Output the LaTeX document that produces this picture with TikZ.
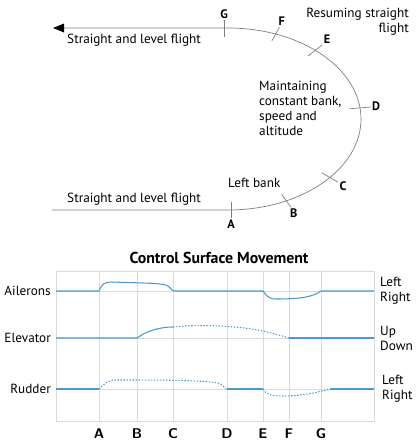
\documentclass[tikz,border=0pt]{standalone}
\usepackage{fontspec}
\setmainfont{PT Sans}
\usetikzlibrary{calc,arrows.meta}
\definecolor{trackgray}{HTML}{7F7F7F}
\definecolor{gridgray}{HTML}{DADADA}
\definecolor{ctrlblue}{HTML}{4A9AD0}

\begin{document}
\begin{tikzpicture}[x=0.03cm,y=-0.03cm,
  track/.style={trackgray,line width=0.6pt},
  tick/.style={trackgray,line width=0.6pt},
  letter/.style={text=black,font=\fontsize{10.5}{12}\bfseries,inner sep=1pt},
  grid/.style={gridgray,line width=0.6pt},
  curve/.style={ctrlblue,line width=0.9pt},
  dots/.style={ctrlblue,line width=0.9pt,dash pattern=on 1.2pt off 1.4pt},
  txt/.style={font=\fontsize{11.3}{12.8}\selectfont,inner sep=0pt}]
\useasboundingbox (0,0) rectangle (420,446);
\coordinate (c) at (228,119);
\draw[track] (60,28) -- (228,28)
  arc [start angle=-90, end angle=90, x radius=133, y radius=91] -- (52,210);
\fill (53,28) -- (64,23.5) -- (64,32.5) -- cycle;
\draw[tick] (224,37) -- (224,20) node[letter,above] (lG) {G};
\draw[tick] (231,202) -- (231,218) node[letter,below] (lA) {A};
\foreach \a/\n in {64/B,40/C,-7/D,-49/E,-69/F}
  \draw[tick] ($(c)+({0.92*133*cos(\a)},{0.92*91*sin(\a)})$)
    -- ($(c)+({1.08*133*cos(\a)},{1.08*91*sin(\a)})$)
    node[letter,anchor=180-\a] (l\n) {\n};
\node[txt,anchor=west] (top) at (67,40) {Straight and level flight};
\node[txt,anchor=west] (bottom) at (67,199) {Straight and level flight};
\node[txt,anchor=west] (bank) at (228,183) {Left bank};
\node[txt,anchor=north west,align=left] (keep) at (259,81)
  {Maintaining\\constant bank,\\speed and\\altitude};
\node[txt,anchor=north east,align=right] (resume) at (409,8)
  {Resuming straight\\flight};

\node[font=\fontsize{13.5}{15}\bfseries] (title) at (219,258) {Control Surface Movement};
\draw[grid] (56,271) rectangle (374,421);
\foreach \x/\n in {99/A,137/B,173/C,227/D,263/E,289/F,321/G} {
  \draw[grid] (\x,271) -- (\x,421);
  \node[font=\fontsize{12}{14}\bfseries\sffamily] (b\n) at (\x,434) {\n};
}
\foreach \y in {291,338,389}
  \draw[grid] (56,\y) -- (374,\y);
\node[txt,anchor=east] (ail) at (51,291) {Ailerons};
\node[txt,anchor=east] (elev) at (51,338) {Elevator};
\node[txt,anchor=east] (rud) at (51,389) {Rudder};
\node[txt,anchor=west,align=left] (ailr) at (380,291) {Left\\Right};
\node[txt,anchor=west,align=left] (elevr) at (380,338) {Up\\Down};
\node[txt,anchor=west,align=left] (rudr) at (382,389) {Left\\Right};

\draw[curve] (56,291) -- (99,291) .. controls (102,284) and (104,282) .. (112,282)
  .. controls (140,283) and (158,283) .. (166,285)
  .. controls (171,287) and (171,291) .. (175,291) -- (263,291)
  .. controls (266,295) and (268,299) .. (276,299)
  .. controls (300,299) and (313,297) .. (321,291) -- (374,291);
\draw[curve] (56,338) -- (137,338) .. controls (145,332) and (158,327) .. (173,327);
\draw[dots] (173,327) .. controls (200,324) and (240,326) .. (263,331)
  .. controls (275,334) and (283,336) .. (289,338);
\draw[curve] (289,338) -- (374,338);
\draw[curve] (56,389) -- (99,389);
\draw[dots] (99,389) .. controls (105,383) and (108,380) .. (116,380)
  .. controls (160,380) and (200,380) .. (218,383)
  .. controls (224,385) and (225,389) .. (227,389);
\draw[curve] (227,389) -- (263,389);
\draw[dots] (263,389) .. controls (266,394) and (270,396) .. (282,396)
  .. controls (305,396) and (318,392) .. (330,389);
\draw[curve] (330,389) -- (374,389);
\end{tikzpicture}
\end{document}
